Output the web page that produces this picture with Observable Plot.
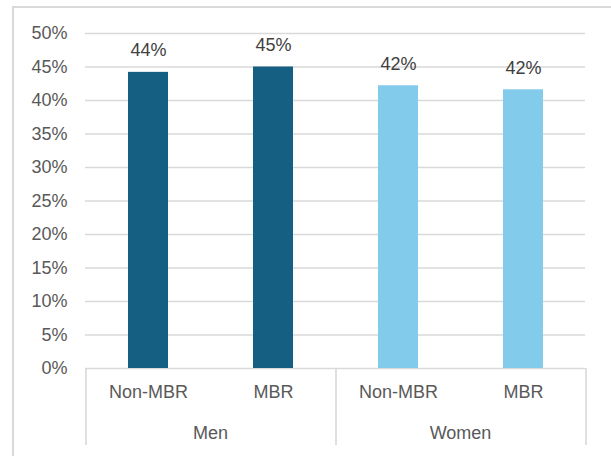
<!DOCTYPE html>
<html>
<head>
<meta charset="utf-8">
<script src="https://cdn.jsdelivr.net/npm/d3@7"></script>
<script src="https://cdn.jsdelivr.net/npm/@observablehq/plot@0.6"></script>
<style>
  html, body { margin: 0; padding: 0; background: #fff; }
  #wrap { position: relative; width: 611px; height: 456px; overflow: hidden; }
  #box { position: absolute; left: 12px; top: 6px; width: 700px; height: 600px;
         border-left: 2px solid #d9d9d9; border-top: 2px solid #d9d9d9; }
  #chart { position: absolute; left: 0; top: 0; }
</style>
</head>
<body>
<div id="wrap"><div id="box"></div><div id="chart"></div></div>
<script>
// Share of respondents, by sex and MBR status (percent)
const groups = ["Men", "Men", "Women", "Women"];
const categories = ["Non-MBR", "MBR", "Non-MBR", "MBR"];
const values = [44.2, 45.0, 42.2, 41.6];
const yTicks = [0, 5, 10, 15, 20, 25, 30, 35, 40, 45, 50];

const data = values.map((v, i) => ({group: groups[i], category: categories[i], value: v}));

const W = 611, H = 456;
const mL = 85, mR = 26, mT = 33, mB = 88;
const facetCount = new Set(groups).size;
const step = (W - mL - mR) / facetCount / 2; // width of one category slot
const frameH = H - mT - mB;

const colors = {Men: "#156082", Women: "#83cbeb"};

// group separators sit half a slot beyond the outer bars of each group
const sepLeft = [...new Set(groups)].map(g => ({group: g, category: categories[0]}));
const sepRight = [{group: groups[groups.length - 1], category: categories[categories.length - 1]}];

const chart = Plot.plot({
  width: W,
  height: H,
  marginLeft: mL,
  marginRight: mR,
  marginTop: mT,
  marginBottom: mB,
  style: {fontFamily: "'Liberation Sans', Arial, sans-serif", fontSize: "18px", color: "#595959", background: "transparent"},
  fx: {domain: ["Men", "Women"], padding: 0},
  x: {domain: ["Non-MBR", "MBR"], paddingInner: 0.68, paddingOuter: 0.34},
  y: {domain: [0, 50]},
  marks: [
    Plot.gridY(yTicks, {stroke: "#d9d9d9", strokeOpacity: 1, strokeWidth: 1.6}),
    Plot.axisY(yTicks, {tickSize: 0, tickPadding: 18, label: null, tickFormat: d => d + "%", fontSize: 18}),
    Plot.axisX({tickSize: 0, tickPadding: 17, label: null, fontSize: 18}),
    Plot.axisFx({anchor: "bottom", tickSize: 0, tickPadding: 58, label: null, fontSize: 18}),
    Plot.ruleX(sepLeft, {fx: "group", x: "category", dx: -step / 2, insetTop: frameH, insetBottom: -77, stroke: "#d9d9d9", strokeWidth: 1.6}),
    Plot.ruleX(sepRight, {fx: "group", x: "category", dx: step / 2, insetTop: frameH, insetBottom: -77, stroke: "#d9d9d9", strokeWidth: 1.6}),
    Plot.barY(data, {fx: "group", x: "category", y: "value", fill: d => colors[d.group]}),
    Plot.text(data, {fx: "group", x: "category", y: "value", text: d => Math.round(d.value) + "%", dy: -22, fill: "#404040", fontSize: 18})
  ]
});

document.getElementById("chart").appendChild(chart);
</script>
</body>
</html>
